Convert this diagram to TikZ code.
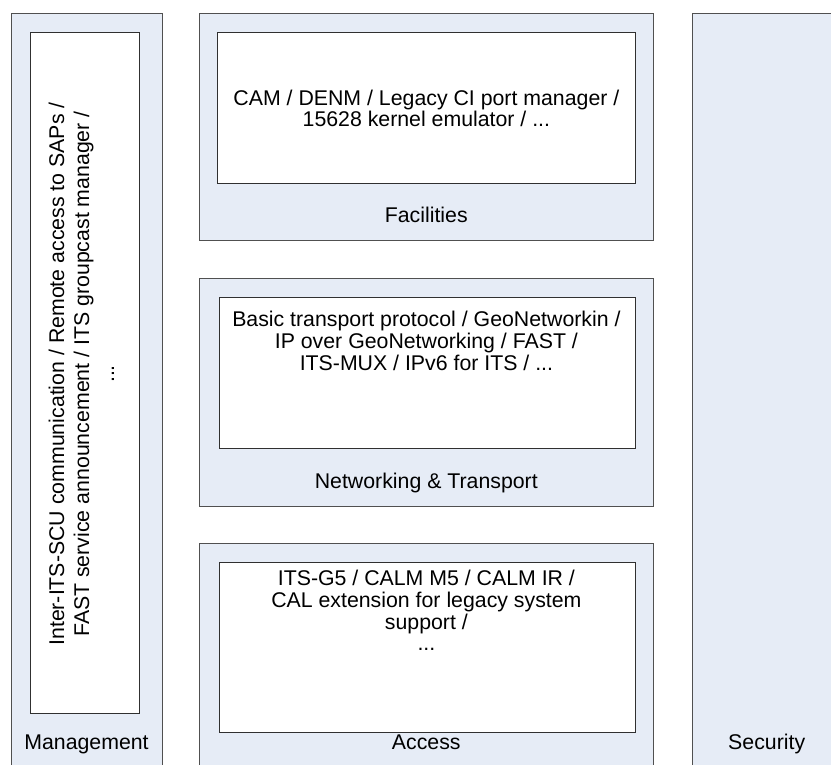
\documentclass[tikz,border=0pt]{standalone}
\usepackage{fontspec}
\setmainfont{Liberation Sans}
\definecolor{boxfill}{HTML}{E6ECF6}
\definecolor{boxline}{HTML}{505050}
\definecolor{innerline}{HTML}{303030}
\begin{document}
\begin{tikzpicture}[x=1pt,y=-1pt,
  outer/.style={draw=boxline, fill=boxfill, line width=1.1pt, inner sep=0pt, anchor=north west},
  inner/.style={draw=innerline, fill=white, line width=0.9pt, inner sep=0pt, anchor=north west},
  txt/.style={font=\fontsize{21.3}{21.7}\selectfont, align=center, inner sep=0pt},
  vtxt/.style={font=\fontsize{21.3}{25}\selectfont, align=center, inner sep=0pt, rotate=90},
  lbl/.style={font=\fontsize{21.3}{21.7}\selectfont, inner sep=0pt, anchor=base},
]
\useasboundingbox (0,0) rectangle (831,764);
\clip (0,0) rectangle (831,764);
% outer layer boxes
\node[outer, minimum width=151pt, minimum height=780pt] (mgmt) at (11,13) {};
\node[outer, minimum width=454pt, minimum height=227pt] (fac) at (199.3,13.3) {};
\node[outer, minimum width=454pt, minimum height=227.4pt] (net) at (199.3,278.3) {};
\node[outer, minimum width=454pt, minimum height=240pt] (acc) at (199.3,542.7) {};
\node[outer, minimum width=151pt, minimum height=780pt] (sec) at (691.7,13) {};
% inner boxes
\node[inner, minimum width=109.3pt, minimum height=680.7pt] (mgmtin) at (29.7,32) {};
\node[inner, minimum width=417.5pt, minimum height=151pt] (facin) at (217,32.3) {};
\node[inner, minimum width=415.8pt, minimum height=151.6pt] (netin) at (218.7,296.7) {};
\node[inner, minimum width=415.8pt, minimum height=170pt] (accin) at (218.7,561.7) {};
% contents
\node[vtxt] (mgmttxt) at (81.3,374) {Inter-ITS-SCU communication / Remote access to SAPs /\\FAST service announcement / ITS groupcast manager /\\...};
\node[txt] (factxt) at (426.4,108.5) {CAM / DENM / Legacy CI port manager /\\15628 kernel emulator / ...};
\node[txt] (nettxt) at (426.4,341) {Basic transport protocol / GeoNetworkin /\\IP over GeoNetworking / FAST /\\ITS-MUX / IPv6 for ITS / ...};
\node[txt] (acctxt) at (426.4,610.5) {ITS-G5 / CALM M5 / CALM IR /\\CAL extension for legacy system\\support /\\...};
% labels
\node[lbl] (mgmtlbl) at (86.5,749) {Management};
\node[lbl] (faclbl) at (426.3,222) {Facilities};
\node[lbl] (netlbl) at (426.3,488) {Networking \& Transport};
\node[lbl] (acclbl) at (426.3,749) {Access};
\node[lbl] (seclbl) at (766.7,749) {Security};
\end{tikzpicture}
\end{document}
